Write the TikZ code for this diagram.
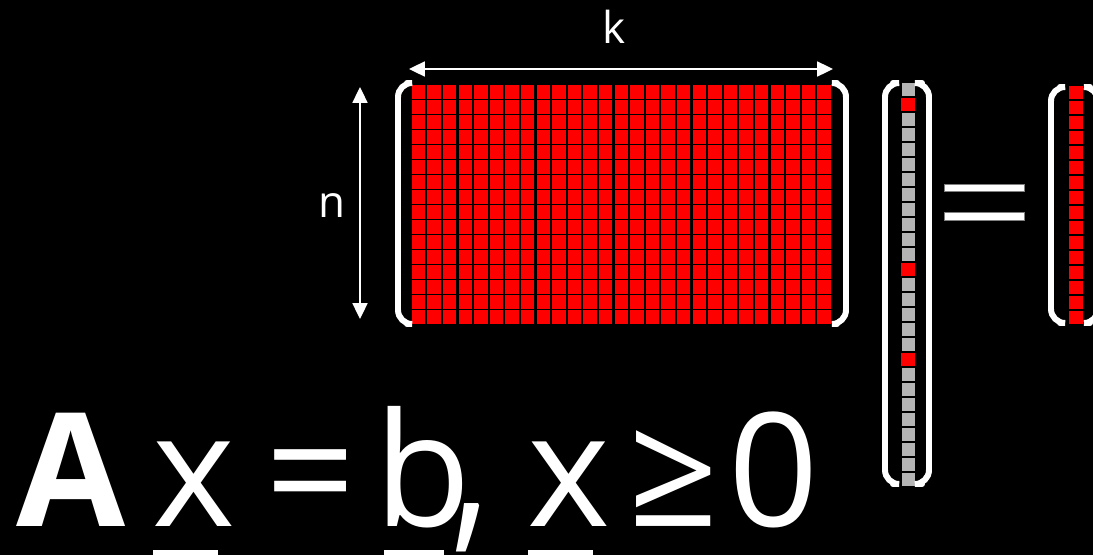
\documentclass[tikz,border=0pt]{standalone}
\usepackage{fontspec}
\setmainfont{Open Sans}
\usepackage{xcolor}
\usepackage{tikz}
\usetikzlibrary{arrows.meta}

\definecolor{cellred}{RGB}{255,0,0}
\definecolor{cellgray}{RGB}{180,180,180}

\begin{document}
\begin{tikzpicture}[x=0.02cm, y=-0.02cm,
    bracket/.style={white, line width=3.4pt, rounded corners=8, line cap=round},
    dimarrow/.style={white, line width=1.1pt, {Triangle[length=9pt,width=8.5pt]}-{Triangle[length=9pt,width=8.5pt]}},
    redcell/.style={fill=cellred},
    graycell/.style={fill=cellgray, draw=black, line width=0.5pt},
    dimlabel/.style={text=white, anchor=base, inner sep=0, font=\fontsize{25}{30}\selectfont},
    eqtext/.style={text=white, anchor=base, inner sep=0, font=\fontsize{90}{100}\selectfont},
    uline/.style={white, line width=4.5pt}]
    \useasboundingbox (0,0) rectangle (1093,555);
    \fill[black] (0,0) rectangle (1093,555);
    \clip (0,0) rectangle (1093,555);

    \foreach \i in {0,...,26}
        \foreach \j in {0,...,15}
            \fill[redcell] ({411.8+15.6*\i},{85.3+15*\j}) rectangle ++(13.4,13.2);

    \foreach \j in {0,...,26}
        \draw[graycell] (901.3,{82.3+15*\j}) rectangle ++(13.8,14);
    \foreach \j in {1,12,18}
        \draw[redcell, draw=black, line width=0.5pt] (900.8,{82.3+15*\j}) rectangle ++(14.6,14.4);

    \foreach \j in {0,...,15}
        \fill[redcell] (1069.3,{86+15*\j}) rectangle ++(14,13.4);

    \draw[bracket] (407,83) -- (398,83) -- (398,324) -- (407,324);
    \draw[bracket] (837,83) -- (846,83) -- (846,324) -- (837,324);
    \draw[bracket] (893,83) -- (885,83) -- (885,484) -- (893,484);
    \draw[bracket] (922,83) -- (929,83) -- (929,484) -- (922,484);
    \draw[bracket] (1060,87) -- (1051,87) -- (1051,323) -- (1060,323);
    \draw[bracket] (1090,87) -- (1098,87) -- (1098,323) -- (1090,323);

    \draw[fill=white, draw=gray] (944.3,184.3) rectangle (1024.3,191.7);
    \draw[fill=white, draw=gray] (944.3,212.7) rectangle (1024.3,220);

    \coordinate (kleft) at (409,69);
    \coordinate (kright) at (833,69);
    \coordinate (ntop) at (360,87);
    \coordinate (nbottom) at (360,319);
    \draw[dimarrow] (kleft) -- (kright);
    \draw[dimarrow] (ntop) -- (nbottom);
    \node[dimlabel] (klabel) at (614,43) {k};
    \node[dimlabel] (nlabel) at (332,217) {n};

    \node[eqtext, font=\fontsize{90}{100}\selectfont\bfseries] (eqA) at (71.5,526) {A};
    \node[eqtext] (eqx) at (193.5,526) {x};
    \node[eqtext] (eqeq) at (311,526) {=};
    \node[eqtext] (eqb) at (423,526) {b};
    \node[eqtext, yscale=1.25] (eqcomma) at (471,526) {,};
    \node[eqtext] (eqxx) at (568.5,526) {x};
    \node[eqtext] (eqge) at (674,526) {≥};
    \node[eqtext] (eqzero) at (773.5,526) {0};

    \draw[uline] (153,554) -- (218,554);
    \draw[uline] (384,554) -- (444,554);
    \draw[uline] (528,554) -- (593,554);
\end{tikzpicture}
\end{document}
